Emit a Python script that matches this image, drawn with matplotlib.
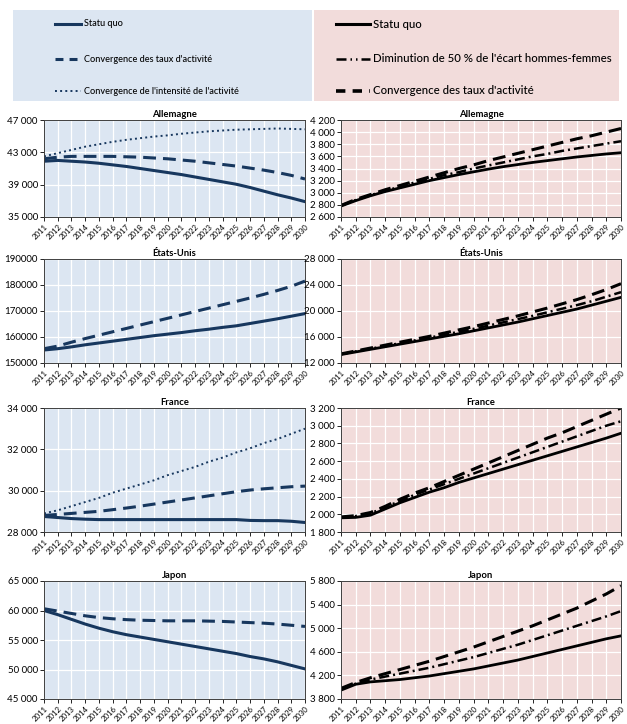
import matplotlib
matplotlib.use("Agg")
import matplotlib.pyplot as plt
from matplotlib.lines import Line2D
from matplotlib.patches import Rectangle

plt.rcParams["font.family"] = ["Lato", "DejaVu Sans"]

years = list(range(2011, 2031))

# --- left column: employment (thousands) ---
de_sq = [41900, 42000, 41900, 41800, 41650, 41450, 41250, 41000, 40750, 40500,
         40250, 39950, 39650, 39350, 39050, 38650, 38200, 37750, 37350, 36900]
de_conv = [42200, 42400, 42500, 42500, 42500, 42500, 42450, 42400, 42300, 42200,
           42050, 41900, 41700, 41500, 41300, 41050, 40800, 40500, 40150, 39700]
de_int = [42500, 42900, 43300, 43700, 44000, 44300, 44550, 44750, 44950, 45100,
          45300, 45450, 45600, 45700, 45800, 45850, 45900, 45950, 45900, 45850]

us_sq = [155000, 155500, 156200, 157000, 157700, 158400, 159100, 159800, 160500, 161100,
         161700, 162400, 163000, 163700, 164300, 165200, 166100, 167000, 168000, 169000]
us_conv = [155500, 156500, 158000, 159400, 160700, 162000, 163300, 164600, 165900, 167200,
           168500, 169800, 171100, 172400, 173700, 175000, 176400, 177900, 179500, 181500]

fr_sq = [28750, 28700, 28650, 28620, 28600, 28600, 28600, 28600, 28600, 28600,
         28600, 28600, 28600, 28600, 28600, 28560, 28550, 28550, 28520, 28460]
fr_conv = [28800, 28850, 28900, 28950, 29000, 29080, 29160, 29250, 29350, 29450,
           29550, 29650, 29750, 29850, 29950, 30030, 30090, 30140, 30190, 30220]
fr_int = [28900, 29050, 29250, 29450, 29650, 29900, 30100, 30300, 30500, 30750,
          30950, 31150, 31400, 31600, 31850, 32050, 32300, 32500, 32750, 33000]

jp_sq = [60000, 59300, 58500, 57700, 57000, 56400, 55900, 55500, 55100, 54700,
         54300, 53900, 53500, 53100, 52700, 52200, 51800, 51300, 50700, 50100]
jp_conv = [60300, 59900, 59500, 59100, 58800, 58600, 58450, 58350, 58300, 58250,
           58250, 58250, 58200, 58150, 58050, 57950, 57850, 57700, 57500, 57300]

# --- right column ---
de_r_sq = [2780, 2870, 2950, 3020, 3080, 3140, 3200, 3250, 3300, 3345,
           3390, 3430, 3465, 3500, 3530, 3560, 3590, 3615, 3640, 3660]
de_r_half = [2790, 2880, 2960, 3030, 3100, 3170, 3230, 3290, 3340, 3400,
             3450, 3500, 3550, 3600, 3640, 3690, 3730, 3770, 3810, 3850]
de_r_conv = [2790, 2890, 2970, 3050, 3120, 3190, 3260, 3330, 3400, 3460,
             3530, 3590, 3650, 3710, 3770, 3830, 3890, 3940, 4000, 4060]

us_r_sq = [13300, 13700, 14100, 14500, 14900, 15300, 15700, 16100, 16500, 16950,
           17400, 17850, 18300, 18800, 19300, 19800, 20300, 20900, 21500, 22100]
us_r_half = [13350, 13780, 14200, 14620, 15050, 15480, 15900, 16350, 16800, 17250,
             17750, 18250, 18750, 19250, 19800, 20350, 20900, 21500, 22200, 22900]
us_r_conv = [13400, 13850, 14300, 14750, 15200, 15650, 16100, 16600, 17100, 17600,
             18150, 18700, 19250, 19850, 20450, 21100, 21750, 22500, 23300, 24200]

fr_r_sq = [1960, 1965, 1990, 2060, 2130, 2190, 2250, 2300, 2360, 2410,
           2460, 2510, 2560, 2610, 2660, 2710, 2760, 2810, 2860, 2915]
fr_r_half = [1965, 1980, 2010, 2080, 2150, 2220, 2280, 2340, 2400, 2460,
             2520, 2580, 2640, 2700, 2760, 2820, 2880, 2940, 3000, 3050]
fr_r_conv = [1970, 1985, 2020, 2090, 2170, 2240, 2300, 2370, 2440, 2510,
             2580, 2650, 2720, 2790, 2860, 2920, 2990, 3060, 3130, 3200]

jp_r_sq = [3950, 4050, 4090, 4110, 4130, 4160, 4190, 4230, 4270, 4310,
           4360, 4410, 4460, 4520, 4580, 4640, 4700, 4760, 4820, 4870]
jp_r_half = [3970, 4060, 4130, 4180, 4230, 4280, 4330, 4390, 4450, 4510,
             4580, 4650, 4720, 4800, 4880, 4960, 5040, 5120, 5200, 5290]
jp_r_conv = [3980, 4080, 4160, 4230, 4300, 4370, 4440, 4520, 4600, 4680,
             4770, 4860, 4950, 5040, 5140, 5240, 5340, 5460, 5580, 5720]

titles = ["Allemagne", "États-Unis", "France", "Japon"]

left_series = [
    (de_sq, de_conv, de_int),
    (us_sq, us_conv, None),
    (fr_sq, fr_conv, fr_int),
    (jp_sq, jp_conv, None),
]
right_series = [
    (de_r_sq, de_r_half, de_r_conv),
    (us_r_sq, us_r_half, us_r_conv),
    (fr_r_sq, fr_r_half, fr_r_conv),
    (jp_r_sq, jp_r_half, jp_r_conv),
]

left_yticks = [
    [35000, 39000, 43000, 47000],
    [150000, 160000, 170000, 180000, 190000],
    [28000, 30000, 32000, 34000],
    [45000, 50000, 55000, 60000, 65000],
]
left_ylabels = [
    ["35 000", "39 000", "43 000", "47 000"],
    ["150000", "160000", "170000", "180000", "190000"],
    ["28 000", "30 000", "32 000", "34 000"],
    ["45 000", "50 000", "55 000", "60 000", "65 000"],
]
right_yticks = [
    [2600, 2800, 3000, 3200, 3400, 3600, 3800, 4000, 4200],
    [12000, 16000, 20000, 24000, 28000],
    [1800, 2000, 2200, 2400, 2600, 2800, 3000, 3200],
    [3800, 4200, 4600, 5000, 5400, 5800],
]
right_ylabels = [
    ["2 600", "2 800", "3 000", "3 200", "3 400", "3 600", "3 800", "4 000", "4 200"],
    ["12 000", "16 000", "20 000", "24 000", "28 000"],
    ["1 800", "2 000", "2 200", "2 400", "2 600", "2 800", "3 000", "3 200"],
    ["3 800", "4 200", "4 600", "5 000", "5 400", "5 800"],
]

left_legend = ["Statu quo", "Convergence des taux d'activité",
               "Convergence de l'intensité de l'activité"]
right_legend = ["Statu quo", "Diminution de 50 % de l'écart hommes-femmes",
                "Convergence des taux d'activité"]

W, H = 627, 724
BLUE_BG = "#dce6f2"
PINK_BG = "#f2dcdb"
NAVY = "#17375e"
DASH = (4.2, 2.3)
DASHDOT = (4.0, 1.6, 0.8, 1.6)


def fx(px):
    return px / W


def fy(py):
    return 1 - py / H


fig = plt.figure(figsize=(W / 100, H / 100), dpi=100)
renderer = fig.canvas.get_renderer()


def fit_size(text, width_px, **kw):
    # font size at which `text` is width_px pixels wide
    t = fig.text(0, 0, text, fontsize=10, **kw)
    w = t.get_window_extent(renderer).width
    t.remove()
    return 10 * width_px / w


# legend boxes
fig.add_artist(Rectangle((fx(13), fy(101)), fx(299), 91 / H, transform=fig.transFigure,
                         facecolor=BLUE_BG, edgecolor="none"))
fig.add_artist(Rectangle((fx(314), fy(101)), fx(305), 91 / H, transform=fig.transFigure,
                         facecolor=PINK_BG, edgecolor="none"))

legend_rows = [24, 59, 91]
left_styles = [("-", 2.2), ((0, (2.6, 2.0)), 2.2), (":", 1.4)]
right_styles = [("-", 2.2), ((0, (4.0, 1.6, 0.6, 1.6, 0.6, 1.6)), 1.8), ((0, (2.6, 2.0)), 2.6)]

left_fs = fit_size(left_legend[2], 156, fontweight="medium")
right_fs = fit_size(right_legend[1], 238, fontweight="medium")

for label, (ls, lw), row in zip(left_legend, left_styles, legend_rows):
    fig.add_artist(Line2D([fx(55), fx(81)], [fy(row), fy(row)], transform=fig.transFigure,
                          color=NAVY, lw=lw, linestyle=ls))
    fig.text(fx(84), fy(row), label, fontsize=left_fs, fontweight="medium",
             va="center", ha="left")
for label, (ls, lw), row in zip(right_legend, right_styles, legend_rows):
    fig.add_artist(Line2D([fx(336), fx(370)], [fy(row), fy(row)], transform=fig.transFigure,
                          color="black", lw=lw, linestyle=ls))
    fig.text(fx(373), fy(row), label, fontsize=right_fs, fontweight="medium",
             va="center", ha="left")

rows_px = [(120, 217), (259, 363), (408, 532), (581, 699)]
left_px = (44, 305)
right_px = (341, 621)


def style_axes(ax, face, yticks, ylabels, title):
    ax.set_facecolor(face)
    ax.set_xlim(years[0], years[-1])
    ax.set_ylim(yticks[0], yticks[-1])
    ax.set_xticks(years)
    ax.set_xticklabels([str(y) for y in years], rotation=45, ha="right",
                       rotation_mode="anchor", fontsize=5.6)
    ax.set_yticks(yticks)
    ax.set_yticklabels(ylabels, fontsize=7)
    ax.tick_params(axis="both", length=3, width=0.6, pad=1.5, direction="out")
    ax.grid(True, color="white", lw=0.9)
    ax.set_axisbelow(True)
    for sp in ax.spines.values():
        sp.set_color("#404040")
        sp.set_linewidth(0.7)
    ax.set_title(title, fontsize=6.8, fontweight="bold", pad=2)


for i, (top, bot) in enumerate(rows_px):
    ax = fig.add_axes([fx(left_px[0]), fy(bot), fx(left_px[1] - left_px[0]), (bot - top) / H])
    style_axes(ax, BLUE_BG, left_yticks[i], left_ylabels[i], titles[i])
    sq, conv, inten = left_series[i]
    if inten is not None:
        ax.plot(years, inten, color=NAVY, lw=1.4, linestyle=":")
    ax.plot(years, conv, color=NAVY, lw=2.2, linestyle=(0, DASH))
    ax.plot(years, sq, color=NAVY, lw=2.2)

    ax = fig.add_axes([fx(right_px[0]), fy(bot), fx(right_px[1] - right_px[0]), (bot - top) / H])
    style_axes(ax, PINK_BG, right_yticks[i], right_ylabels[i], titles[i])
    sq, half, conv = right_series[i]
    ax.plot(years, conv, color="black", lw=2.2, linestyle=(0, DASH))
    ax.plot(years, half, color="black", lw=1.8, linestyle=(0, DASHDOT))
    ax.plot(years, sq, color="black", lw=2.0)

fig.savefig("out.png", dpi=100)
